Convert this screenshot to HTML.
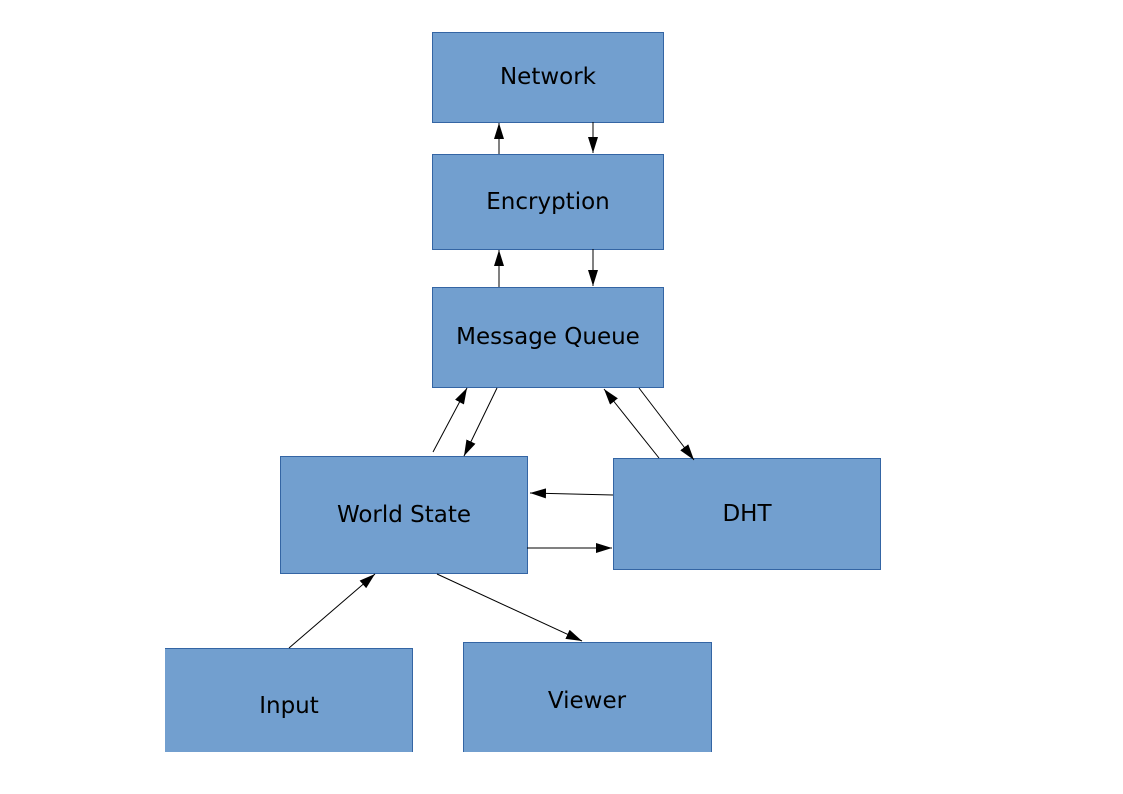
<!DOCTYPE html>
<html><head><meta charset="utf-8"><style>
html,body{margin:0;padding:0;background:#fff;}
svg{display:block;}
text{font-family:"DejaVu Sans","Liberation Sans",sans-serif;font-size:23px;fill:#000;text-anchor:middle;dominant-baseline:central;}
</style></head><body>
<svg width="1123" height="794" viewBox="0 0 1123 794" xmlns="http://www.w3.org/2000/svg">
<defs>
<marker id="a" viewBox="0 0 16 10" refX="16" refY="5" markerWidth="16" markerHeight="10" markerUnits="userSpaceOnUse" orient="auto">
<path d="M0,0 L16,5 L0,10 z" fill="#000"/>
</marker>
</defs>
<g fill="#729fcf" stroke="#3465a4" stroke-width="1">
<rect x="432.5" y="32.5" width="231" height="90"/>
<rect x="432.5" y="154.5" width="231" height="95"/>
<rect x="432.5" y="287.5" width="231" height="100"/>
<rect x="280.5" y="456.5" width="247" height="117"/>
<rect x="613.5" y="458.5" width="267" height="111"/>
<path d="M165.5,752 V648.5 H412.5 V752" />
<path d="M463.5,752 V642.5 H711.5 V752" />
</g>
<rect x="165" y="649" width="247" height="103" fill="#729fcf"/>
<rect x="464" y="643" width="247" height="109" fill="#729fcf"/>
<g stroke="#000" stroke-width="1" marker-end="url(#a)">
<line x1="499" y1="154" x2="499" y2="123"/>
<line x1="593" y1="122" x2="593" y2="153"/>
<line x1="499" y1="287" x2="499" y2="250"/>
<line x1="593" y1="249" x2="593" y2="286"/>
<line x1="433" y1="452" x2="467" y2="388"/>
<line x1="497" y1="388" x2="464" y2="456"/>
<line x1="659" y1="458" x2="604" y2="389"/>
<line x1="639" y1="388" x2="694" y2="460"/>
<line x1="613" y1="495" x2="530" y2="493"/>
<line x1="527" y1="548" x2="612" y2="548"/>
<line x1="289" y1="648" x2="375" y2="574"/>
<line x1="437" y1="574" x2="582" y2="641"/>
</g>
<text x="548" y="77">Network</text>
<text x="548" y="202">Encryption</text>
<text x="548" y="337">Message Queue</text>
<text x="404" y="515">World State</text>
<text x="747" y="514">DHT</text>
<text x="289" y="706">Input</text>
<text x="587" y="701">Viewer</text>
</svg>
</body></html>
